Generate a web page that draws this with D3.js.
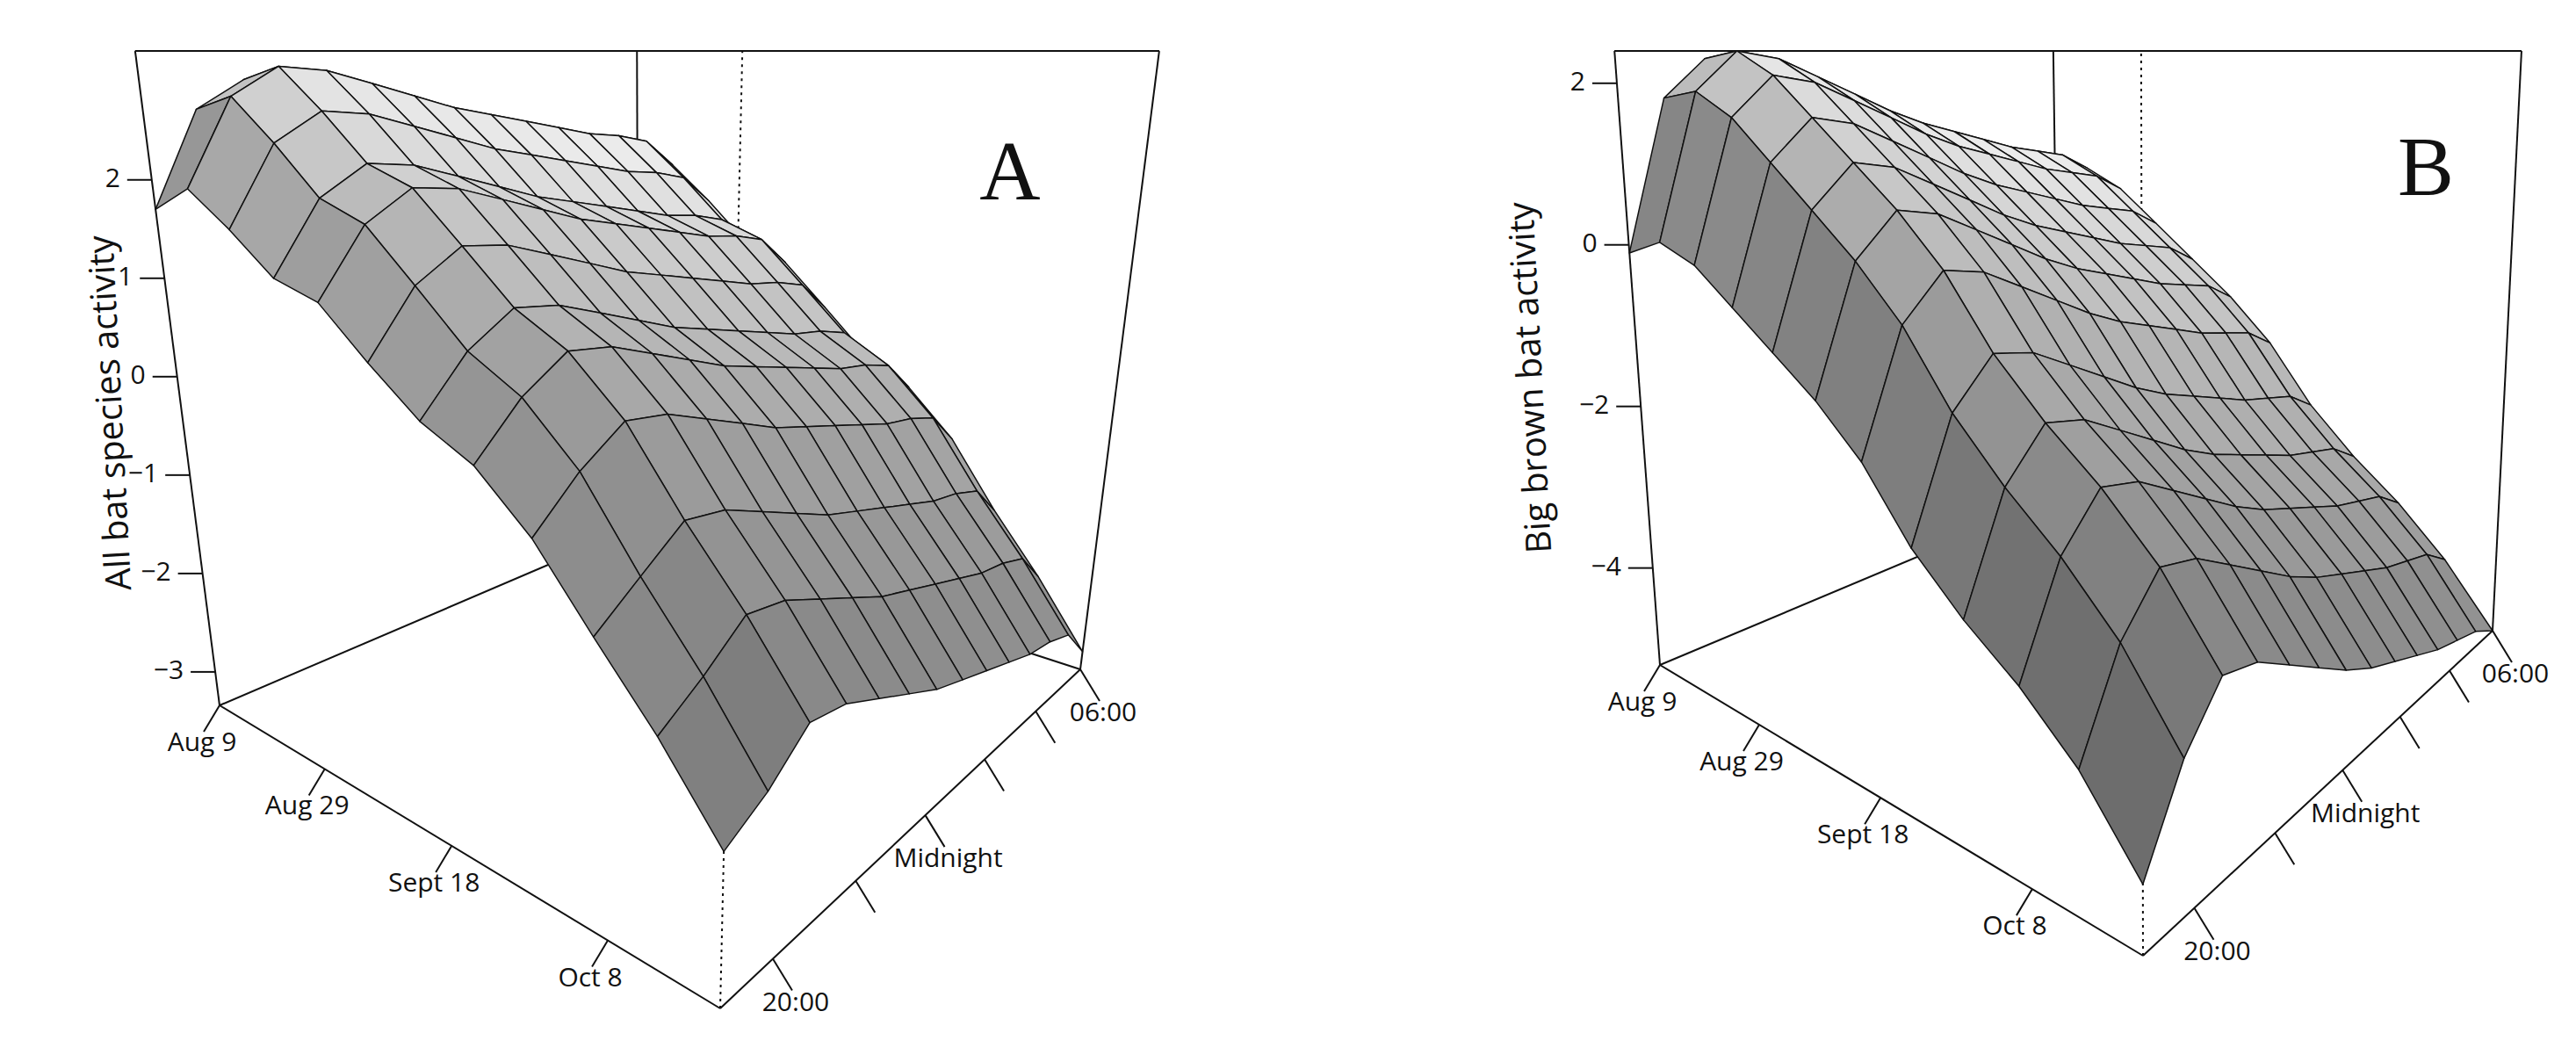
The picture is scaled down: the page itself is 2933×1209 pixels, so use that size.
<!DOCTYPE html>
<html>
<head>
<meta charset="utf-8">
<script src="https://cdn.jsdelivr.net/npm/d3@7"></script>
<style>
  body { margin: 0; background: #fff; }
  text { font-family: 'Open Sans', sans-serif; fill: #111; }
</style>
</head>
<body>
<svg id="chart" width="2933" height="1209"></svg>
<script>
// grid axes: dates (days after Aug 9) and times (hours, 24 = midnight)
const dateStart = 0, dateEnd = 72
const timeStart = 18.9, timeEnd = 30
const dateTicks = [
  { day: 0, label: 'Aug 9' }, { day: 20, label: 'Aug 29' },
  { day: 40, label: 'Sept 18' }, { day: 60, label: 'Oct 8' }
]
const timeTicks = [
  { t: 20, label: '20:00' }, { t: 22, label: '' }, { t: 24, label: 'Midnight' },
  { t: 26, label: '' }, { t: 28, label: '' }, { t: 30, label: '06:00' }
]

// surface values: rows = dates (Aug 9 -> Oct 20), cols = times (19:00 -> 06:00)
const allBats = [
  [1.7, 2.7, 3.0, 2.95, 2.8, 2.65, 2.5, 2.4, 2.3, 2.2, 2.1, 2.05, 1.95, 1.6],
  [1.95, 2.85, 3.15, 3.1, 2.95, 2.8, 2.65, 2.55, 2.45, 2.35, 2.25, 2.2, 2.1, 1.75],
  [1.6, 2.4, 2.7, 2.65, 2.5, 2.35, 2.2, 2.1, 2.0, 1.9, 1.8, 1.75, 1.65, 1.3],
  [1.2, 1.9, 2.2, 2.15, 2.0, 1.85, 1.7, 1.6, 1.5, 1.4, 1.3, 1.25, 1.15, 0.8],
  [1.05, 1.7, 2.0, 1.95, 1.8, 1.65, 1.5, 1.4, 1.3, 1.2, 1.1, 1.05, 0.95, 0.6],
  [0.6, 1.2, 1.5, 1.45, 1.3, 1.15, 1.0, 0.9, 0.8, 0.7, 0.6, 0.55, 0.45, 0.1],
  [0.2, 0.7, 1.0, 0.95, 0.8, 0.65, 0.5, 0.4, 0.3, 0.2, 0.1, 0.05, -0.05, -0.4],
  [-0.05, 0.4, 0.7, 0.65, 0.5, 0.35, 0.2, 0.1, 0.0, -0.1, -0.2, -0.25, -0.35, -0.7],
  [-0.5, -0.1, 0.2, 0.15, 0.0, -0.15, -0.3, -0.4, -0.5, -0.6, -0.7, -0.75, -0.85, -1.2],
  [-1.1, -0.8, -0.5, -0.55, -0.7, -0.85, -1.0, -1.1, -1.2, -1.3, -1.4, -1.45, -1.55, -1.9],
  [-1.65, -1.4, -1.1, -1.15, -1.3, -1.45, -1.6, -1.7, -1.8, -1.9, -2.0, -2.05, -2.15, -2.5],
  [-2.25, -2.05, -1.75, -1.8, -1.95, -2.1, -2.25, -2.35, -2.45, -2.55, -2.65, -2.7, -2.8, -3.15]
]
const bigBrown = [
  [-0.1, 1.8, 2.3, 2.2, 1.95, 1.7, 1.45, 1.25, 1.1, 0.95, 0.8, 0.7, 0.6, 0.35],
  [0.1, 1.9, 2.4, 2.3, 2.05, 1.8, 1.55, 1.35, 1.2, 1.05, 0.9, 0.8, 0.7, 0.45],
  [-0.1, 1.6, 2.1, 2.0, 1.75, 1.5, 1.25, 1.05, 0.9, 0.75, 0.6, 0.5, 0.4, 0.15],
  [-0.5, 1.1, 1.6, 1.5, 1.25, 1.0, 0.75, 0.55, 0.4, 0.25, 0.1, 0.0, -0.1, -0.35],
  [-0.9, 0.6, 1.1, 1.0, 0.75, 0.5, 0.25, 0.05, -0.1, -0.25, -0.4, -0.5, -0.6, -0.85],
  [-1.3, 0.1, 0.6, 0.5, 0.25, 0.0, -0.25, -0.45, -0.6, -0.75, -0.9, -1.0, -1.1, -1.35],
  [-1.8, -0.5, 0.0, -0.1, -0.35, -0.6, -0.85, -1.05, -1.2, -1.35, -1.5, -1.6, -1.7, -1.95],
  [-2.5, -1.3, -0.8, -0.9, -1.15, -1.4, -1.65, -1.85, -2.0, -2.15, -2.3, -2.4, -2.5, -2.75],
  [-3.0, -1.9, -1.4, -1.5, -1.75, -2.0, -2.25, -2.45, -2.6, -2.75, -2.9, -3.0, -3.1, -3.35],
  [-3.4, -2.4, -1.9, -2.0, -2.25, -2.5, -2.75, -2.95, -3.1, -3.25, -3.4, -3.5, -3.6, -3.85],
  [-3.9, -3.0, -2.5, -2.6, -2.85, -3.1, -3.35, -3.55, -3.7, -3.85, -4.0, -4.1, -4.2, -4.45],
  [-4.6, -3.8, -3.3, -3.4, -3.65, -3.9, -4.15, -4.35, -4.5, -4.65, -4.8, -4.9, -5.0, -5.2]
]
const zTicksA = [-3, -2, -1, 0, 1, 2]
const zTicksB = [-4, -2, 0, 2]

const panels = [
  {
    values: allBats, zTicks: zTicksA, zDomain: [-3.34, 3.31], title: 'All bat species activity', letter: 'A',
    L: [250, 803], F: [820, 1148], R: [1230, 762], B: [727, 599], V: [740, 4600],
    titlePos: [128, 470], letterPos: [1150, 205]
  },
  {
    values: bigBrown, zTicks: zTicksB, zDomain: [-5.2, 2.4], title: 'Big brown bat activity', letter: 'B',
    L: [1890, 757], F: [2440, 1088], R: [2838, 718], B: [2345, 566], V: [2455, 8386],
    titlePos: [1745, 430], letterPos: [2762, 200]
  }
]
const horizonY = 58

// square -> quad homography (u along date, v along time)
const homography = (p0, p1, p2, p3) => {
  const [x0, y0] = p0, [x1, y1] = p1, [x2, y2] = p2, [x3, y3] = p3
  const dx1 = x1 - x2, dx2 = x3 - x2, dx3 = x0 - x1 + x2 - x3
  const dy1 = y1 - y2, dy2 = y3 - y2, dy3 = y0 - y1 + y2 - y3
  const den = dx1 * dy2 - dx2 * dy1
  const g = (dx3 * dy2 - dx2 * dy3) / den
  const h = (dx1 * dy3 - dx3 * dy1) / den
  const a = x1 - x0 + g * x1, b = x3 - x0 + h * x3
  const d = y1 - y0 + g * y1, e = y3 - y0 + h * y3
  return (u, v) => {
    const w = g * u + h * v + 1
    return [(a * u + b * v + x0) / w, (d * u + e * v + y0) / w]
  }
}

const svg = d3.select('#chart')

const drawPanel = (p) => {
  const floor = homography(p.L, p.F, p.R, p.B)
  const uScale = d3.scaleLinear().domain([dateStart, dateEnd]).range([0, 1])
  const vScale = d3.scaleLinear().domain([timeStart, timeEnd]).range([0, 1])
  const wScale = d3.scaleLinear().domain(p.zDomain).range([0, 1])
  const [Vx, Vy] = p.V

  const project = (u, v, w) => {
    const [px, py] = floor(u, v)
    const y = py + w * (horizonY - py)
    const x = Vx + (px - Vx) * (y - Vy) / (py - Vy)
    return [x, y]
  }
  const line = (a, b) => `M${a[0]},${a[1]}L${b[0]},${b[1]}`
  const g = svg.append('g')
  const stroke = (path, dash) => g.append('path').attr('d', path)
    .attr('fill', 'none').attr('stroke', '#111').attr('stroke-width', 2)
    .attr('stroke-dasharray', dash || null)

  const cL = [0, 0], cF = [1, 0], cR = [1, 1], cB = [0, 1]
  const top = (c) => project(c[0], c[1], 1)
  const bot = (c) => project(c[0], c[1], 0)

  // back box lines
  stroke(line(bot(cL), bot(cB)))
  stroke(line(bot(cB), bot(cR)))
  stroke(line(bot(cB), top(cB)))
  stroke(line(bot(cF), top(cF)), '3,5')
  stroke(line(top(cL), top(cB)) + line(top(cB), top(cR)))
  stroke(line(top(cL), top(cF)) + line(top(cF), top(cR)))

  // surface faces
  const rows = p.values.length, cols = p.values[0].length
  const uAt = (i) => i / (rows - 1), vAt = (j) => j / (cols - 1)
  const faces = []
  const light = [0.45, 0.25, 1]
  const ln = Math.hypot(...light)
  for (let i = 0; i < rows - 1; i++) {
    for (let j = 0; j < cols - 1; j++) {
      const z = [p.values[i][j], p.values[i + 1][j], p.values[i + 1][j + 1], p.values[i][j + 1]].map(wScale)
      const du = ((z[1] + z[2]) - (z[0] + z[3])) / 2 / (1 / (rows - 1))
      const dv = ((z[3] + z[2]) - (z[0] + z[1])) / 2 / (1 / (cols - 1))
      const n = [-du, -dv, 1.2]
      const nn = Math.hypot(...n)
      const dot = Math.max(0, (n[0] * light[0] + n[1] * light[1] + n[2] * light[2]) / (nn * ln))
      const uc = (uAt(i) + uAt(i + 1)) / 2, vc = (vAt(j) + vAt(j + 1)) / 2
      const shade = Math.min(235, 255 * (0.5 + 0.45 * dot) * (1 - 0.45 * uc + 0.05 * vc))
      const pts = [
        project(uAt(i), vAt(j), z[0]), project(uAt(i + 1), vAt(j), z[1]),
        project(uAt(i + 1), vAt(j + 1), z[2]), project(uAt(i), vAt(j + 1), z[3])
      ]
      faces.push({ pts, key: uc - vc, shade })
    }
  }
  faces.sort((a, b) => a.key - b.key)
  g.selectAll('path.face').data(faces).join('path')
    .attr('class', 'face')
    .attr('d', (f) => 'M' + f.pts.map((q) => q.join(',')).join('L') + 'Z')
    .attr('fill', (f) => d3.rgb(f.shade, f.shade, f.shade))
    .attr('stroke', '#111').attr('stroke-width', 1.5).attr('stroke-linejoin', 'round')

  // front box lines
  stroke(line(bot(cL), top(cL)))
  stroke(line(bot(cR), top(cR)))
  stroke(line(bot(cL), bot(cF)))
  stroke(line(bot(cF), bot(cR)))

  // z axis ticks on the left vertical
  p.zTicks.forEach((t) => {
    const a = project(0, 0, wScale(t))
    stroke(line(a, [a[0] - 28, a[1]]))
    g.append('text').attr('x', a[0] - 36).attr('y', a[1])
      .attr('text-anchor', 'end').attr('dominant-baseline', 'middle')
      .attr('font-size', 30).text(String(t).replace('-', '\u2212'))
  })

  // date ticks along the front-left floor edge
  dateTicks.forEach((d) => {
    const a = project(uScale(d.day), 0, 0)
    const e = [a[0] - 18, a[1] + 30]
    stroke(line(a, e))
    g.append('text').attr('x', e[0] - 2).attr('y', e[1] + 14)
      .attr('text-anchor', 'middle').attr('dominant-baseline', 'middle')
      .attr('font-size', 30).text(d.label)
  })

  // time ticks along the front-right floor edge
  timeTicks.forEach((d) => {
    const a = project(1, vScale(d.t), 0)
    const e = [a[0] + 22, a[1] + 36]
    stroke(line(a, e))
    if (d.label) {
      g.append('text').attr('x', e[0] + 4).attr('y', e[1] + 15)
        .attr('text-anchor', 'middle').attr('dominant-baseline', 'middle')
        .attr('font-size', 30).text(d.label)
    }
  })

  g.append('text')
    .attr('transform', `translate(${p.titlePos[0]},${p.titlePos[1]}) rotate(-93)`)
    .attr('text-anchor', 'middle').attr('dominant-baseline', 'middle')
    .attr('font-size', 40).text(p.title)

  g.append('text').attr('x', p.letterPos[0]).attr('y', p.letterPos[1])
    .attr('text-anchor', 'middle').attr('dominant-baseline', 'middle')
    .style('font-family', "'Liberation Serif', serif")
    .attr('font-size', 96).text(p.letter)
}

panels.forEach(drawPanel)
</script>
</body>
</html>
